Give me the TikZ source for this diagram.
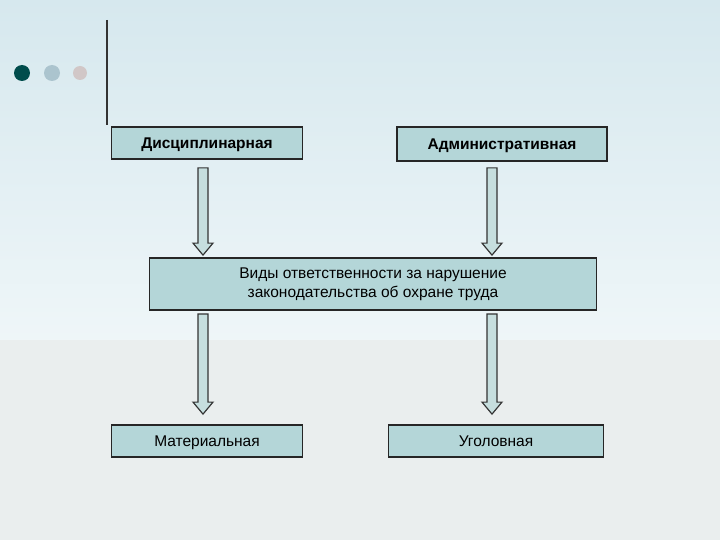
\documentclass[tikz,border=0pt]{standalone}
\usepackage{fontspec}
\setmainfont{Liberation Sans}
\usetikzlibrary{calc}
\definecolor{boxfill}{HTML}{B4D6D8}
\definecolor{arrfill}{HTML}{C6DEDE}
\definecolor{bgtop}{HTML}{D6E8EE}
\definecolor{bgbot}{HTML}{EAEEEE}
\tikzset{
  box/.style={draw=black!85, line width=1.8pt, fill=boxfill, inner sep=0pt, align=center, font=\fontsize{15.5}{19}\selectfont},
  barrow/.style={draw=black!80, line width=1.2pt, fill=arrfill, line join=miter},
}
\newcommand\barr[2]{%
  \draw[barrow] let \p1=(#1), \p2=(#2) in
   (\x1-5,\y1) -- (\x1-5,\y2+12) -- (\x1-10,\y2+12) -- (\x1,\y2) -- (\x1+10,\y2+12) -- (\x1+5,\y2+12) -- (\x1+5,\y1) -- cycle;}
\begin{document}
\begin{tikzpicture}[x=1pt,y=-1pt]
\useasboundingbox (0,0) rectangle (720,540);
\fill[top color=bgtop, bottom color=white!60!bgtop] (0,0) rectangle (720,340);
\fill[bgbot] (0,340) rectangle (720,540);
\draw[black!80, line width=2pt] (107,20) -- (107,125);
\fill[teal!60!black] (22,73) circle (8);
\fill[cyan!30!gray!60] (52,73) circle (8);
\fill[red!10!gray!40] (80,73) circle (7);
\node[box, minimum width=191, minimum height=32, text height=11, text depth=0] (d) at (207,143) {\textbf{Дисциплинарная}};
\node[box, minimum width=210, minimum height=34, text height=11, text depth=0] (a) at (502,144) {\textbf{Административная}};
\node[box, minimum width=447, minimum height=52] (v) at (373,284) {Виды ответственности за нарушение\\законодательства об охране труда};
\node[box, minimum width=191, minimum height=32, text height=11, text depth=0] (m) at (207,441) {Материальная};
\node[box, minimum width=215, minimum height=32, text height=11, text depth=0] (u) at (496,441) {Уголовная};
\coordinate (a1) at ($(d.south)+(-4,8)$);
\coordinate (a2) at (a1 |- v.north);
\barr{a1}{$(a2)+(0,-2)$}
\coordinate (b1) at ($(a.south)+(-10,6)$);
\coordinate (b2) at (b1 |- v.north);
\barr{b1}{$(b2)+(0,-2)$}
\coordinate (c1) at ($(v.south)+(-170,3)$);
\coordinate (c2) at (c1 |- m.north);
\barr{c1}{$(c2)+(0,-10)$}
\coordinate (e1) at ($(v.south)+(119,3)$);
\coordinate (e2) at (e1 |- u.north);
\barr{e1}{$(e2)+(0,-10)$}
\end{tikzpicture}
\end{document}
